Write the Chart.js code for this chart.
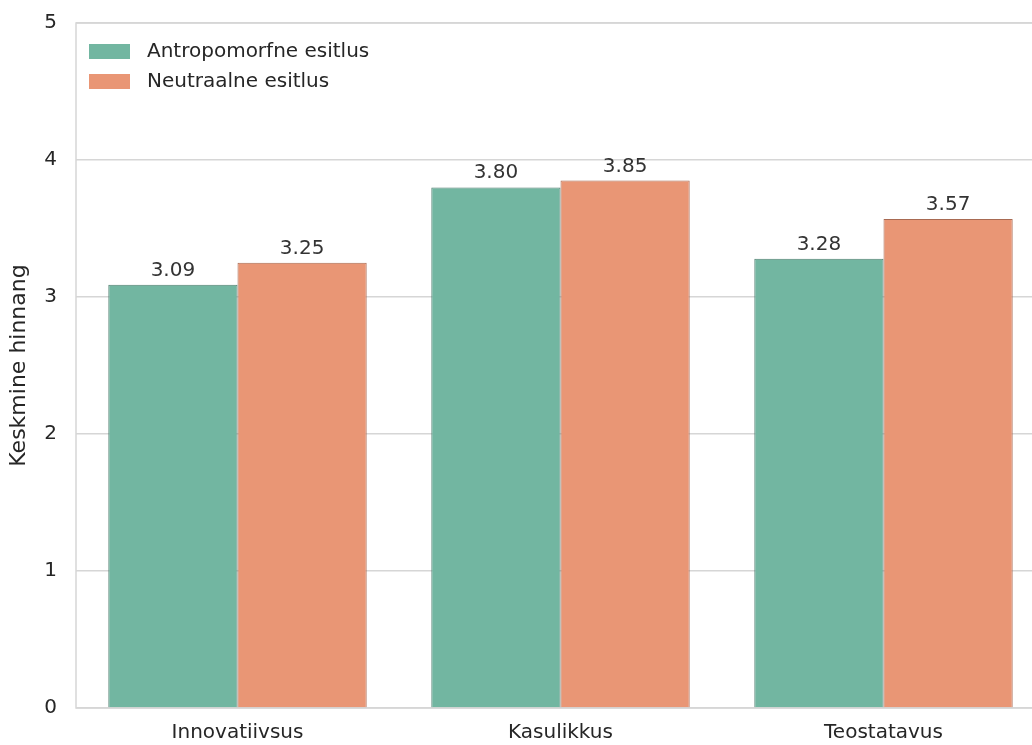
<!DOCTYPE html>
<html>
<head>
<meta charset="utf-8">
<script src="https://cdn.jsdelivr.net/npm/chart.js@4/dist/chart.umd.min.js"></script>
<style>
  html, body { margin: 0; padding: 0; background: #fff; overflow: hidden; }
  #wrap { width: 1080px; height: 745px; }
</style>
</head>
<body>
<div id="wrap"><canvas id="chart" width="1080" height="745"></canvas></div>
<script>
// data
const categories = ['Innovatiivsus', 'Kasulikkus', 'Teostatavus'];
const seriesNames = ['Antropomorfne esitlus', 'Neutraalne esitlus'];
const anthropomorphic = [3.09, 3.80, 3.28];
const neutral = [3.25, 3.85, 3.57];
const yTicks = [0, 1, 2, 3, 4, 5];

const FONT = "'DejaVu Sans', sans-serif";
const TEXT = '#262626';
const GRID = '#d6d6d6';
const colors = ['#72b6a1', '#e99675'];
const edges = ['#4f7d6f', '#a86a52'];

// value labels on top of each bar
const valueLabels = {
    id: 'valueLabels',
    afterDatasetsDraw(chart) {
        const ctx = chart.ctx;
        ctx.save();
        ctx.font = '20px ' + FONT;
        ctx.fillStyle = '#333';
        ctx.textAlign = 'center';
        ctx.textBaseline = 'alphabetic';
        chart.data.datasets.forEach((ds, i) => {
            chart.getDatasetMeta(i).data.forEach((bar, j) => {
                ctx.fillText(ds.data[j].toFixed(2), bar.x, bar.y - 9);
            });
        });
        ctx.restore();
    }
};

// legend drawn inside the plot, top left
const innerLegend = {
    id: 'innerLegend',
    afterDraw(chart) {
        const ctx = chart.ctx;
        const a = chart.chartArea;
        ctx.save();
        ctx.font = '20px ' + FONT;
        ctx.textBaseline = 'middle';
        seriesNames.forEach((name, i) => {
            const y = a.top + 21 + i * 30;
            ctx.fillStyle = colors[i];
            ctx.fillRect(a.left + 13, y, 41, 15);
            ctx.fillStyle = TEXT;
            ctx.fillText(name, a.left + 71, y + 7.5);
        });
        ctx.restore();
    }
};

// light frame around the plot
const frame = {
    id: 'frame',
    beforeDatasetsDraw(chart) {
        const ctx = chart.ctx;
        const a = chart.chartArea;
        ctx.save();
        ctx.strokeStyle = GRID;
        ctx.lineWidth = 1.5;
        ctx.strokeRect(a.left, a.top, a.right - a.left, a.bottom - a.top);
        ctx.restore();
    }
};

new Chart(document.getElementById('chart'), {
    type: 'bar',
    data: {
        labels: categories,
        datasets: [
            { label: seriesNames[0], data: anthropomorphic, backgroundColor: colors[0], borderColor: edges[0], borderWidth: 1 },
            { label: seriesNames[1], data: neutral, backgroundColor: colors[1], borderColor: edges[1], borderWidth: 1 }
        ]
    },
    options: {
        responsive: false,
        animation: false,
        layout: { padding: { top: 23, right: 35, left: 0, bottom: 0 } },
        datasets: { bar: { categoryPercentage: 0.8, barPercentage: 1.0 } },
        plugins: { legend: { display: false }, tooltip: { enabled: false } },
        scales: {
            x: {
                grid: { display: false, drawTicks: false },
                border: { display: false },
                ticks: { color: TEXT, font: { family: FONT, size: 20 }, padding: 13 },
                afterFit(s) { s.height = 37; s.paddingLeft = 0; s.paddingRight = 0; }
            },
            y: {
                min: 0,
                max: 5,
                afterBuildTicks(s) { s.ticks = yTicks.map(v => ({ value: v })); },
                grid: { color: GRID, lineWidth: 1.5, drawTicks: false },
                border: { display: false },
                ticks: { color: TEXT, font: { family: FONT, size: 20 }, padding: 19 },
                title: { display: true, text: 'Keskmine hinnang', color: TEXT, font: { family: FONT, size: 22 }, padding: { top: 6, bottom: 0 } },
                afterFit(s) { s.width = 76; s.paddingTop = 0; s.paddingBottom = 0; }
            }
        }
    },
    plugins: [frame, valueLabels, innerLegend]
});
</script>
</body>
</html>
